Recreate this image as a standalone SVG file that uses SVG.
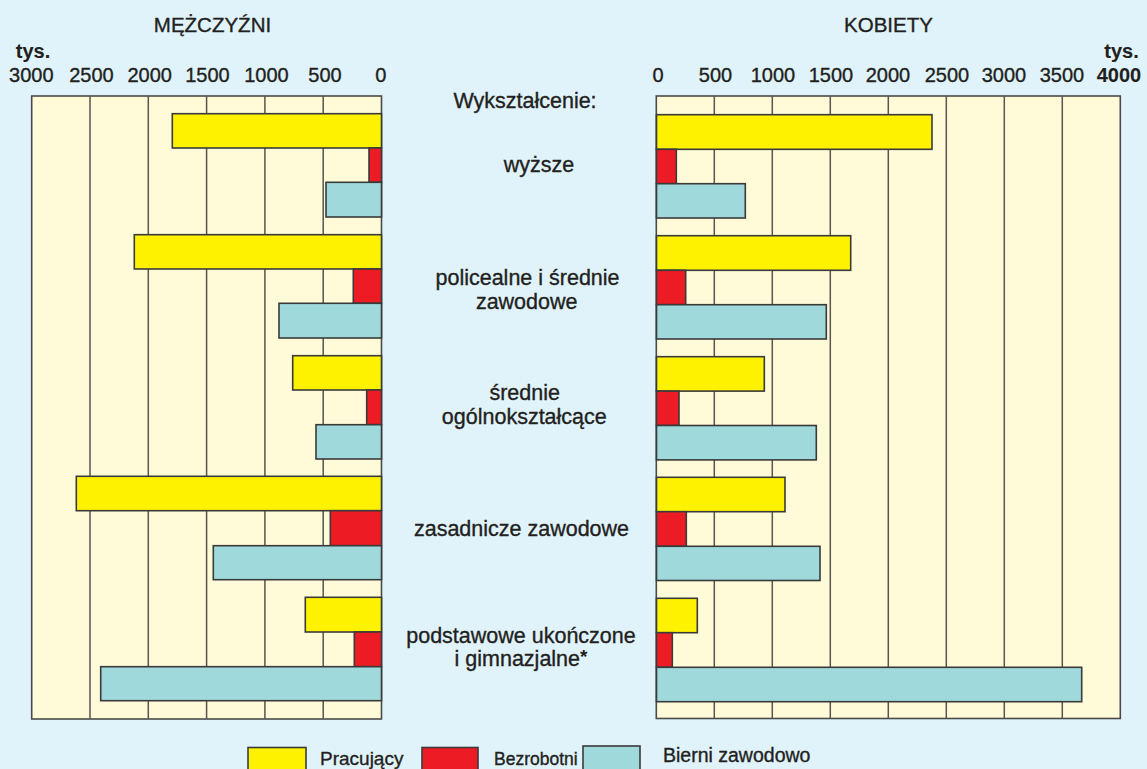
<svg xmlns="http://www.w3.org/2000/svg" width="1147" height="769" viewBox="0 0 1147 769">
<style>
text{font-family:"Liberation Sans",Arial,Helvetica,sans-serif;fill:#231f20;stroke:#231f20;stroke-width:0.35}
.t{font-size:20.5px;text-anchor:middle}
.n{font-size:20px;text-anchor:middle}
.b{font-weight:bold;stroke-width:0.1}
.l{font-size:21.5px;text-anchor:middle}
.g{font-size:19px}
.panel{fill:#fffad8;stroke:#4a4a4a;stroke-width:1.6}
.grid{stroke:#5a5550;stroke-width:1.5}
.y{fill:#fff200;stroke:#3a3a3a;stroke-width:1.6}
.r{fill:#ed1c24;stroke:#3a3a3a;stroke-width:1.6}
.c{fill:#a0d9dc;stroke:#3a3a3a;stroke-width:1.6}
</style>
<rect x="0" y="0" width="1147" height="769" fill="#e0f3fb"/>

<g id="titles">
<text class="t" x="212.5" y="32">MĘŻCZYŹNI</text>
<text class="t" x="888.5" y="32">KOBIETY</text>
</g>

<g id="axis-left">
<text class="n b" x="33" y="58">tys.</text>
<text class="n" x="31.3" y="81.5">3000</text>
<text class="n" x="91.5" y="81.5">2500</text>
<text class="n" x="149.7" y="81.5">2000</text>
<text class="n" x="207.5" y="81.5">1500</text>
<text class="n" x="266.5" y="81.5">1000</text>
<text class="n" x="325" y="81.5">500</text>
<text class="n" x="380.8" y="81.5">0</text>
</g>

<g id="axis-right">
<text class="n b" x="1121.5" y="58">tys.</text>
<text class="n" x="658" y="81.5">0</text>
<text class="n" x="715.5" y="81.5">500</text>
<text class="n" x="773" y="81.5">1000</text>
<text class="n" x="831" y="81.5">1500</text>
<text class="n" x="888" y="81.5">2000</text>
<text class="n" x="947" y="81.5">2500</text>
<text class="n" x="1004" y="81.5">3000</text>
<text class="n" x="1062" y="81.5">3500</text>
<text class="n b" x="1119" y="81.5">4000</text>
</g>

<g id="panel-left">
<rect class="panel" x="31.7" y="96" width="349.8" height="623"/>
<path class="grid" d="M90 96V719M148.3 96V719M206.6 96V719M264.9 96V719M323.2 96V719"/>
</g>

<g id="panel-right">
<rect class="panel" x="656.3" y="96" width="464" height="622.5"/>
<path class="grid" d="M714.3 96V718.5M772.3 96V718.5M830.3 96V718.5M888.3 96V718.5M946.3 96V718.5M1004.3 96V718.5M1062.3 96V718.5"/>
</g>

<g id="bars-wyzsze">
<rect class="y" x="172.3" y="113.7" width="209.2" height="34.3"/>
<rect class="r" x="369" y="148" width="12.5" height="34.3"/>
<rect class="c" x="326" y="182.3" width="55.5" height="34.7"/>
<rect class="y" x="656.5" y="114.7" width="275.5" height="34.6"/>
<rect class="r" x="656.5" y="149.3" width="19.8" height="34.4"/>
<rect class="c" x="656.5" y="183.7" width="88.8" height="34.3"/>
</g>

<g id="bars-policealne">
<rect class="y" x="134.3" y="234.7" width="247.2" height="34.3"/>
<rect class="r" x="353.3" y="269" width="28.2" height="34.3"/>
<rect class="c" x="279" y="303.3" width="102.5" height="34.7"/>
<rect class="y" x="656.5" y="235.7" width="194.2" height="34.6"/>
<rect class="r" x="656.5" y="270.3" width="29.2" height="34.4"/>
<rect class="c" x="656.5" y="304.7" width="169.8" height="34.3"/>
</g>

<g id="bars-srednie">
<rect class="y" x="292.7" y="355.7" width="88.8" height="34.3"/>
<rect class="r" x="366.7" y="390" width="14.8" height="34.7"/>
<rect class="c" x="316" y="424.7" width="65.5" height="34.3"/>
<rect class="y" x="656.5" y="356.7" width="107.8" height="34.4"/>
<rect class="r" x="656.5" y="391.1" width="22.5" height="34.4"/>
<rect class="c" x="656.5" y="425.5" width="159.8" height="34.4"/>
</g>

<g id="bars-zasadnicze">
<rect class="y" x="76.3" y="476.3" width="305.2" height="34.4"/>
<rect class="r" x="330.3" y="510.7" width="51.2" height="35"/>
<rect class="c" x="213.3" y="545.7" width="168.2" height="34"/>
<rect class="y" x="656.5" y="477.3" width="128.5" height="34.4"/>
<rect class="r" x="656.5" y="511.7" width="29.8" height="34.6"/>
<rect class="c" x="656.5" y="546.3" width="163.5" height="34.2"/>
</g>

<g id="bars-podstawowe">
<rect class="y" x="305.3" y="597.3" width="76.2" height="34.7"/>
<rect class="r" x="354.3" y="632" width="27.2" height="34.7"/>
<rect class="c" x="100.7" y="666.7" width="280.8" height="34"/>
<rect class="y" x="656.5" y="598.3" width="40.8" height="34.4"/>
<rect class="r" x="656.5" y="632.7" width="15.8" height="34.6"/>
<rect class="c" x="656.5" y="667.3" width="425.2" height="34.4"/>
</g>

<g id="labels">
<text class="l" x="525" y="107.7">Wykształcenie:</text>
<text class="l" x="539" y="172.3">wyższe</text>
<text class="l" x="527.5" y="285">policealne i średnie</text>
<text class="l" x="526.7" y="309">zawodowe</text>
<text class="l" x="524.7" y="400">średnie</text>
<text class="l" x="524.3" y="424.3">ogólnokształcące</text>
<text class="l" x="521.5" y="535.7">zasadnicze zawodowe</text>
<text class="l" x="521" y="642.7">podstawowe ukończone</text>
<text class="l" x="521" y="666">i gimnazjalne<tspan dy="-3" style="font-size:19px;font-weight:bold;stroke-width:0">*</tspan></text>
</g>

<g id="legend">
<rect class="y" x="248" y="747.5" width="58" height="30"/>
<text class="g" x="320" y="765">Pracujący</text>
<rect class="r" x="422" y="747.5" width="56" height="30"/>
<text class="g" x="494" y="765" style="font-size:17.5px">Bezrobotni</text>
<rect class="c" x="583" y="746" width="57" height="30"/>
<text class="g" x="663" y="762" style="font-size:19.5px">Bierni zawodowo</text>
</g>
</svg>
